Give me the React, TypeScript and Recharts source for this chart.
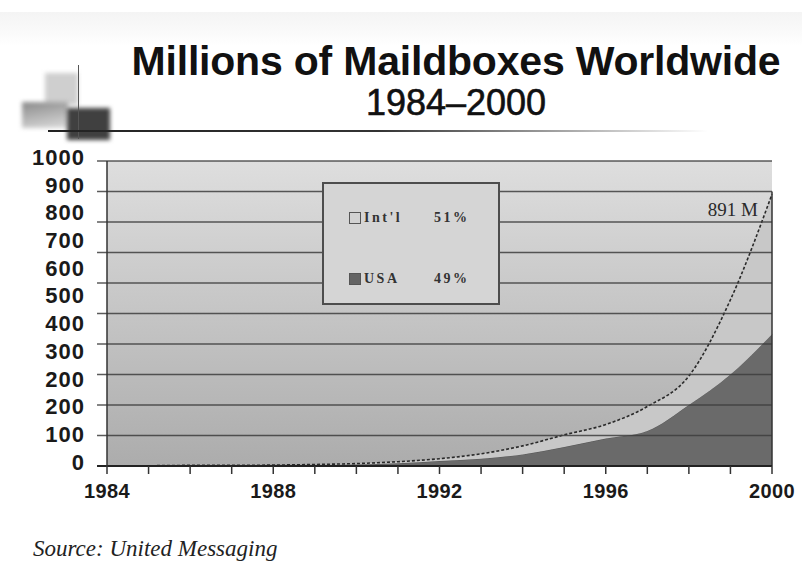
import React from "react";
import {
  ComposedChart,
  Area,
  XAxis,
  YAxis,
  CartesianGrid,
  ReferenceLine,
  ReferenceDot,
} from "recharts";

const years = [1984, 1985, 1986, 1987, 1988, 1989, 1990, 1991, 1992, 1993, 1994, 1995, 1996, 1997, 1998, 1999, 2000];
const usa = [1, 1, 1, 1, 2, 3, 5, 9, 16, 24, 38, 62, 90, 115, 200, 300, 432];
const intl = [0, 0, 1, 1, 1, 2, 3, 5, 8, 16, 28, 40, 46, 80, 95, 245, 459];

const xLabels = [1984, 1988, 1992, 1996, 2000];
// the original slide repeats "200" on its axis
const yLabels = ["0", "100", "200", "200", "300", "400", "500", "600", "700", "800", "900", "1000"];
const gridValues = [0, 100, 200, 300, 400, 500, 600, 700, 800, 900, 1000];

const legendItems = [
  { name: "Int'l", share: "51%", color: "#d2d2d2" },
  { name: "USA", share: "49%", color: "#646464" },
];

const data = years.map((year, i) => ({ year, usa: usa[i], intl: intl[i] }));
const yTicks = yLabels.map((_, i) => (i * 1000) / (yLabels.length - 1));

const LegendBox = () => (
  <div
    style={{
      position: "absolute",
      left: 322,
      top: 182,
      width: 174,
      height: 119,
      background: "#d5d5d5",
      border: "2px solid #4d4d4d",
      fontFamily: "'Liberation Serif', serif",
      fontWeight: 700,
      fontSize: 14,
      color: "#333",
      letterSpacing: 2.5,
    }}
  >
    {legendItems.map((item, i) => (
      <div
        key={item.name}
        style={{
          position: "absolute",
          left: 25,
          top: 26 + i * 61,
          display: "flex",
          alignItems: "center",
        }}
      >
        <span
          style={{
            width: 10,
            height: 10,
            background: item.color,
            border: "1px solid #555",
            marginRight: 3,
          }}
        />
        <span style={{ width: 70 }}>{item.name}</span>
        <span>{item.share}</span>
      </div>
    ))}
  </div>
);

const TotalLabel = (props: any) => {
  const { viewBox } = props;
  return (
    <text
      x={viewBox.x - 14}
      y={viewBox.y + 22}
      textAnchor="end"
      fontFamily="'Liberation Serif', serif"
      fontSize={19}
      fill="#2a2a2a"
    >
      891 M
    </text>
  );
};

export default function App() {
  return (
    <div
      style={{
        position: "absolute",
        left: 0,
        top: 0,
        width: 802,
        height: 567,
        background: "#fff",
        overflow: "hidden",
      }}
    >
      {/* top band and corner decoration */}
      <div
        style={{
          position: "absolute",
          left: 0,
          top: 12,
          width: 802,
          height: 34,
          background: "linear-gradient(#f4f4f4, #fafafa 60%, #fff)",
        }}
      />
      <div style={{ position: "absolute", left: 45, top: 73, width: 33, height: 32, background: "#cfcfcf", filter: "blur(2px)" }} />
      <div
        style={{
          position: "absolute",
          left: 22,
          top: 102,
          width: 46,
          height: 26,
          background: "linear-gradient(170deg, #8a8a8a, #dcdcdc)",
          filter: "blur(2px)",
        }}
      />
      <div style={{ position: "absolute", left: 67, top: 108, width: 43, height: 32, background: "#404040", filter: "blur(2px)" }} />
      <div style={{ position: "absolute", left: 78, top: 65, width: 1, height: 74, background: "#555" }} />
      <div
        style={{
          position: "absolute",
          left: 48,
          top: 130,
          width: 660,
          height: 2,
          background: "linear-gradient(90deg, #222, #333 50%, #fff)",
        }}
      />

      {/* title */}
      <div
        style={{
          position: "absolute",
          left: 100,
          top: 40,
          width: 712,
          textAlign: "center",
          fontFamily: "'Liberation Sans', Arial, sans-serif",
          color: "#111",
          lineHeight: "42px",
        }}
      >
        <div style={{ fontSize: 41, fontWeight: 700, letterSpacing: -0.2 }}>Millions of Maildboxes Worldwide</div>
        <div style={{ fontSize: 36, fontWeight: 400, WebkitTextStroke: "0.6px #111" }}>1984–2000</div>
      </div>

      <ComposedChart
        width={802}
        height={567}
        data={data}
        margin={{ top: 161, right: 30, bottom: 61, left: 7 }}
        style={{ position: "absolute", left: 0, top: 0 }}
      >
        <defs>
          <linearGradient id="plotBg" x1="0" y1="0" x2="0" y2="1">
            <stop offset="0%" stopColor="#dedede" />
            <stop offset="100%" stopColor="#acacac" />
          </linearGradient>
        </defs>
        <CartesianGrid horizontal={false} vertical={false} fill="url(#plotBg)" />
        <XAxis
          dataKey="year"
          type="number"
          domain={[1984, 2000]}
          ticks={years}
          interval={0}
          tickFormatter={(v: number) => (xLabels.includes(v) ? String(v) : "")}
          tickSize={8}
          tickMargin={10}
          height={40}
          axisLine={{ stroke: "#222", strokeWidth: 2 }}
          tickLine={{ stroke: "#333", strokeWidth: 1.5 }}
          tick={{
            fill: "#1a1a1a",
            fontSize: 20,
            fontWeight: 700,
            fontFamily: "'Liberation Sans', Arial, sans-serif",
            letterSpacing: 0.4,
          }}
        />
        <YAxis
          type="number"
          domain={[0, 1000]}
          ticks={yTicks}
          interval={0}
          width={100}
          tickSize={0}
          tickMargin={22}
          tickFormatter={(_: number, i: number) => yLabels[i]}
          axisLine={{ stroke: "#333", strokeWidth: 1.5 }}
          tickLine={false}
          tick={{
            fill: "#1a1a1a",
            fontSize: 22,
            fontWeight: 700,
            fontFamily: "'Liberation Sans', Arial, sans-serif",
            letterSpacing: 1,
            dy: -4,
          }}
        />
        <Area
          type="monotone"
          dataKey="usa"
          stackId="mail"
          fill="#6a6a6a"
          fillOpacity={1}
          stroke="#555"
          strokeWidth={1}
          isAnimationActive={false}
        />
        <Area
          type="monotone"
          dataKey="intl"
          stackId="mail"
          fill="#c8c8c8"
          fillOpacity={1}
          stroke="#2a2a2a"
          strokeWidth={1.6}
          strokeDasharray="3 2"
          isAnimationActive={false}
        />
        {gridValues.map((v) => (
          <ReferenceLine
            key={v}
            segment={[
              { x: 1983.76, y: v },
              { x: 2000, y: v },
            ]}
            ifOverflow="visible"
            stroke={v === 0 ? "#222" : "#3d3d3d"}
            strokeWidth={v === 0 ? 2 : 1.6}
            strokeOpacity={v === 0 ? 1 : 0.85}
          />
        ))}
        <ReferenceLine
          segment={[
            { x: 2000, y: 0 },
            { x: 2000, y: 900 },
          ]}
          stroke="#333"
          strokeWidth={1.5}
        />
        <ReferenceDot
          x={2000}
          y={usa[usa.length - 1] + intl[intl.length - 1]}
          r={0}
          stroke="none"
          fill="none"
          label={<TotalLabel />}
          ifOverflow="visible"
        />
      </ComposedChart>

      <LegendBox />

      <div
        style={{
          position: "absolute",
          left: 33,
          top: 536,
          fontFamily: "'Liberation Serif', serif",
          fontStyle: "italic",
          fontSize: 23,
          lineHeight: "26px",
          color: "#222",
          whiteSpace: "nowrap",
        }}
      >
        Source: United Messaging
      </div>
    </div>
  );
}
